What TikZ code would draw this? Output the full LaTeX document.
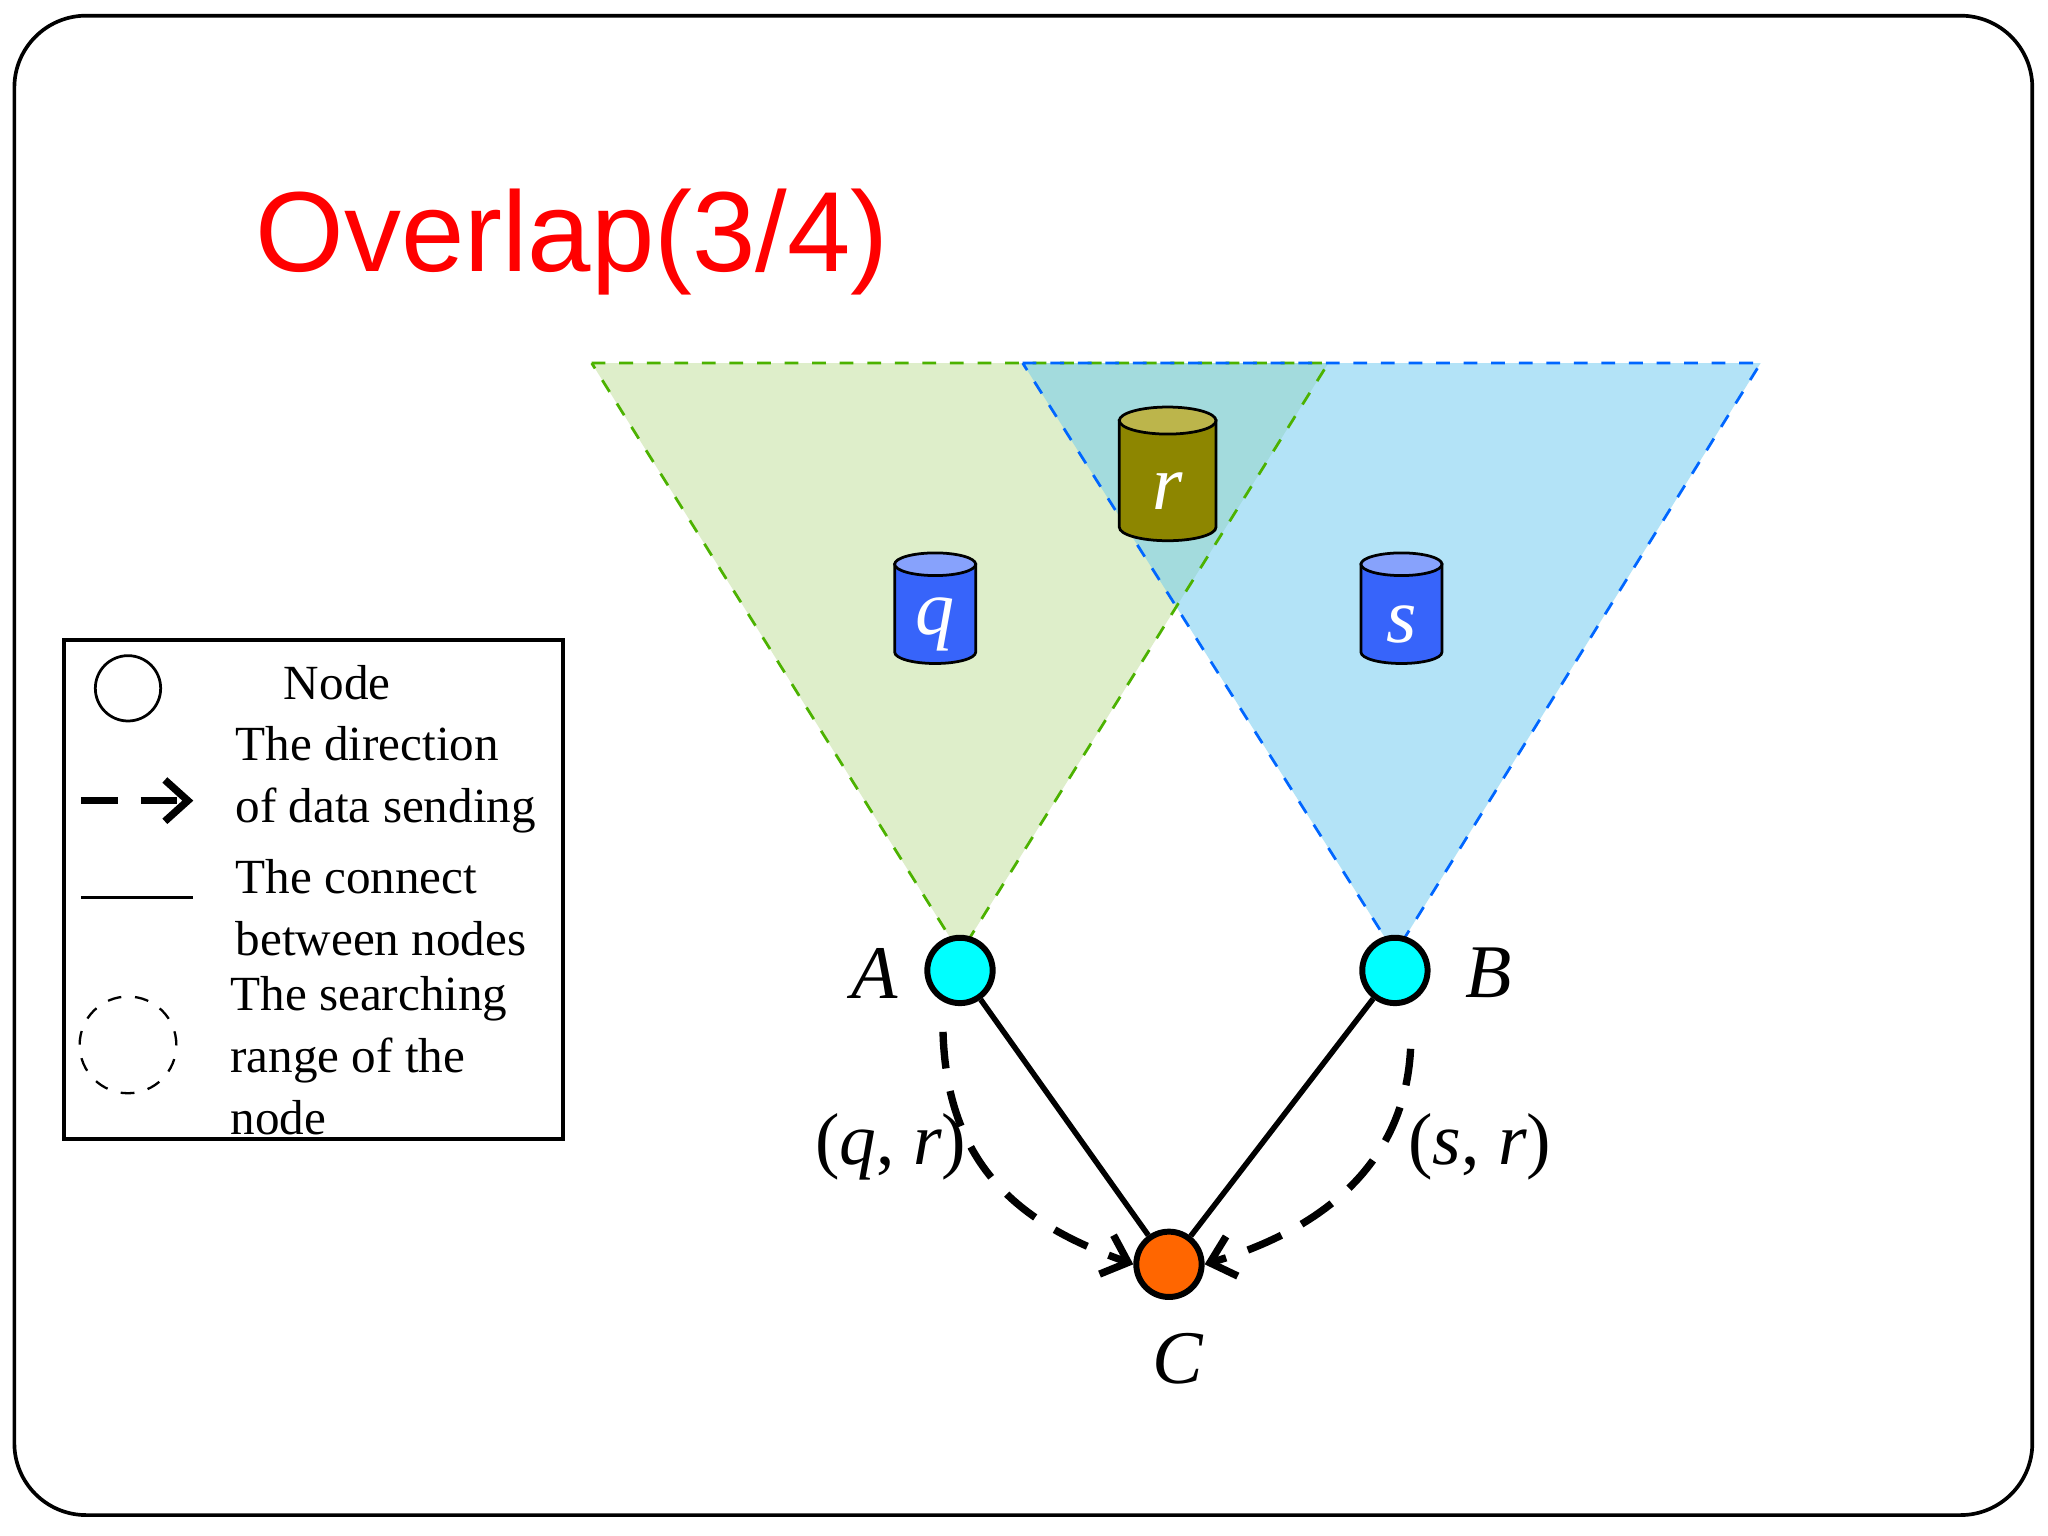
\documentclass[tikz,border=0pt]{standalone}
\usepackage{fontspec}
\setmainfont{Liberation Serif}
\newfontfamily\titlefont{Liberation Sans}
\usetikzlibrary{arrows.meta}
\definecolor{trigreen}{RGB}{190,222,150}
\definecolor{triblue}{RGB}{105,201,241}
\definecolor{cylblue}{RGB}{55,100,250}
\definecolor{nodecyan}{RGB}{0,255,255}
\definecolor{nodeorange}{RGB}{255,102,0}
\begin{document}
\begin{tikzpicture}[x=0.01cm,y=-0.01cm,
  sensor/.style={circle,draw,line width=1.3pt,minimum size=0.5cm,inner sep=0pt},
  lab/.style={font=\fontsize{16.5}{16.5}\selectfont\itshape},
  leg/.style={font=\fontsize{10.7}{13.5}\selectfont,align=left,anchor=west},
  flow/.style={dashed,line width=1.6pt,dash pattern=on 8pt off 5pt,-{Straight Barb[length=5pt,width=9pt]}}]
\useasboundingbox (0,0) rectangle (1568,1176);
\fill[white] (0,0) rectangle (1568,1176);
\draw[line width=0.8pt,rounded corners=0.55cm] (11,12) rectangle (1556,1160);
\node[anchor=base west,inner sep=0,text=red,font=\titlefont\fontsize{24.8}{24.8}\selectfont] (title) at (195,208) {Overlap(3/4)};
% triangles
\fill[trigreen,fill opacity=0.5] (453,278) -- (1017,278) -- (735,730) -- cycle;
\fill[triblue,fill opacity=0.5] (783,278) -- (1348,278) -- (1068,730) -- cycle;
\draw[dashed,green!50!black!60!lime,line width=0.6pt] (453,278) -- (1017,278) -- (735,730) -- cycle;
\draw[dashed,blue!60!cyan,line width=0.6pt] (783,278) -- (1348,278) -- (1068,730) -- cycle;
% cylinders
\newcommand\cyl[6]{% x y w h color label
  \fill[#5,draw=black,line width=0.6pt] (#1-#3/2,#2-#4/2) -- (#1-#3/2,#2+#4/2-#3*0.14) arc[start angle=180,end angle=0,x radius=#3/2,y radius=#3*0.14] -- (#1+#3/2,#2-#4/2) -- cycle;
  \fill[#5!60!white,draw=black,line width=0.6pt] (#1,#2-#4/2) ellipse[x radius=#3/2,y radius=#3*0.14];
  \node[text=white,font=\fontsize{17}{17}\selectfont\itshape] at (#1,#2+8) {#6};}
\cyl{894}{368}{74}{92}{olive}{r}
\cyl{716}{470}{62}{76}{cylblue}{q}
\cyl{1073}{470}{62}{76}{cylblue}{s}
% nodes
\node[sensor,fill=nodecyan] (A) at (735,743) {};
\node[sensor,fill=nodecyan] (B) at (1068,743) {};
\node[sensor,fill=nodeorange] (C) at (895,968) {};
\node[lab] (la) at (670,745) {A};
\node[lab] (lb) at (1140,745) {B};
\node[lab] (lc) at (902,1040) {C};
\node[font=\fontsize{16}{16}\selectfont] (qr) at (682,878) {(\textit{q}, \textit{r})};
\node[font=\fontsize{16}{16}\selectfont] (sr) at (1133,878) {(\textit{s}, \textit{r})};
\draw[line width=1.2pt] (A) -- (C) -- (B);
\coordinate (a1) at (722,790);
\coordinate (b1) at (1080,803);
\draw[flow] (a1) .. controls (725,900) and (790,940) .. (C.west);
\draw[flow] (b1) .. controls (1075,900) and (1000,945) .. (C.east);
% legend
\draw[line width=0.8pt] (49,490) rectangle (431,872);
\node[circle,draw,line width=0.6pt,minimum size=0.5cm] (l1) at (98,527) {};
\node[leg] (t1) at (205,523) {Node};
\draw[flow] (62,613) -- (148,613);
\node[leg] (t2) at (168,597) {The direction\\of data sending};
\draw[line width=0.6pt] (62,687) -- (148,687);
\node[leg] (t3) at (168,695) {The connect\\between nodes};
\node[circle,draw,dashed,line width=0.5pt,minimum size=0.74cm] (l4) at (98,800) {};
\node[leg] (t4) at (164,808) {The searching\\range of the\\node};
\end{tikzpicture}
\end{document}
